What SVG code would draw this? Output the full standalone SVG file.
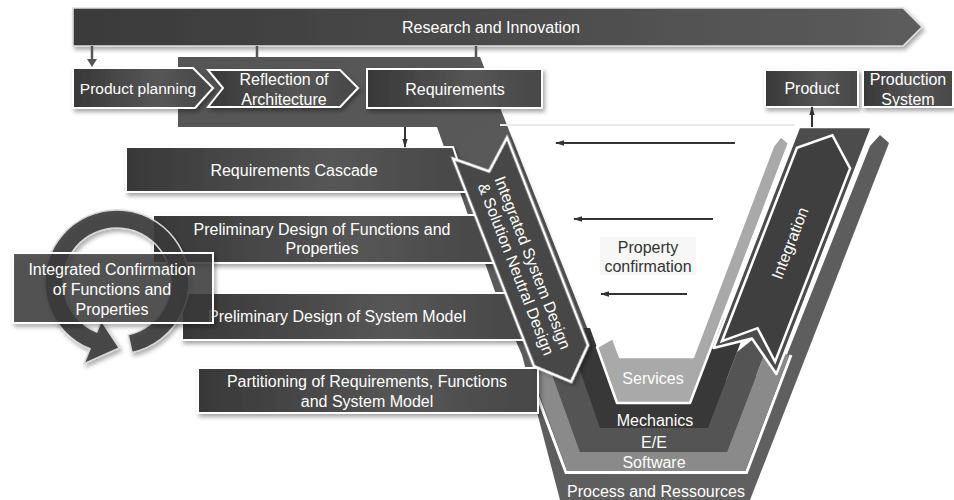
<svg xmlns="http://www.w3.org/2000/svg" width="954" height="500" viewBox="0 0 954 500">
<defs>
<linearGradient id="gBox" x1="0" y1="0" x2="1" y2="0">
<stop offset="0" stop-color="#383838"/><stop offset="0.6" stop-color="#565656"/><stop offset="1" stop-color="#474747"/>
</linearGradient>
<linearGradient id="gBanner" x1="0" y1="0" x2="1" y2="0">
<stop offset="0" stop-color="#3a3a3a"/><stop offset="1" stop-color="#5c5c5c"/>
</linearGradient>
<linearGradient id="gPanel" x1="0" y1="0" x2="1" y2="1">
<stop offset="0" stop-color="#555"/><stop offset="1" stop-color="#616161"/>
</linearGradient>
<filter id="sh" x="-10%" y="-20%" width="130%" height="150%">
<feDropShadow dx="2" dy="3" stdDeviation="2" flood-color="#000" flood-opacity="0.35"/>
</filter>
<marker id="ah" viewBox="0 0 10 10" refX="9" refY="5" markerWidth="9" markerHeight="9" orient="auto" markerUnits="userSpaceOnUse">
<path d="M0,2 L10,5 L0,8 z" fill="#333"/>
</marker>
<style>
.t{font-family:"Liberation Sans",Arial,sans-serif;font-size:16px;fill:#fff;text-anchor:middle}
.d{fill:#333}
.box{fill:url(#gBox);stroke:#fff;stroke-width:2;filter:url(#sh)}
.con{stroke:#555;stroke-width:2.5;fill:none}
.arr{stroke:#333;stroke-width:2;fill:none;marker-end:url(#ah)}
</style>
</defs>
<rect width="954" height="500" fill="#fff"/>

<!-- V layers -->
<g id="process">
<polygon points="178,57 480,57 594,345 612,385 695,385 780,372 870,146 880,135 889,143 750,500 560,500 522,355 498,300 437,127 178,127" fill="url(#gPanel)"/>
<line x1="500" y1="125" x2="795" y2="125" stroke="#ebebeb" stroke-width="2"/>
<polyline points="527,368 566,472.5 746.5,472.5 791,355" fill="none" stroke="#fff" stroke-width="3"/>
<text class="t" x="656" y="497">Process and Ressources</text>
</g>
<g id="software">
<polygon points="530,368 550,368 580,452 727,452 763,358 777,349 789,356 745,471 567,471" fill="#8a8a8a"/>
<text class="t" x="654" y="468">Software</text>
</g>
<g id="ee">
<polygon points="549,366 578,366 600,428 708,428 737,352 752,340 766,350 727,452 580,452" fill="#545454"/>
<text class="t" x="654" y="448">E/E</text>
</g>
<g id="mechanics">
<polygon points="565,328 590,328 617,403 690,403 722,318 750,318 708,428 600,428" fill="#383838"/>
<text class="t" x="655" y="426">Mechanics</text>
</g>
<g id="services">
<polygon points="597,347 613,338 620,357 693,357 773,146 781,136 789,143 690,403 617,403" fill="#a9a9a9" stroke="#fff" stroke-width="2.5" stroke-linejoin="round"/>
<text class="t" x="653" y="384" fill="#f4f4f4">Services</text>
</g>

<!-- left boxes -->
<g id="req-cascade">
<polygon class="box" points="126,147 453,147 468,192 126,192"/>
<text class="t" x="294" y="175.5">Requirements Cascade</text>
</g>
<g id="prelim-functions">
<polygon class="box" points="153,215 477,215 495,263 153,263"/>
<text class="t" x="322" y="234.5">Preliminary Design of Functions and</text>
<text class="t" x="322" y="254">Properties</text>
</g>
<g id="prelim-system">
<polygon class="box" points="182,293 506,293 524,340 182,340"/>
<text class="t" x="337" y="322">Preliminary Design of System Model</text>
</g>
<g id="partitioning">
<rect class="box" x="198" y="368" width="340" height="45"/>
<text class="t" x="367" y="387">Partitioning of Requirements, Functions</text>
<text class="t" x="367" y="407">and System Model</text>
</g>

<!-- circular arrow + confirmation -->
<g id="integrated-confirmation">
<path d="M132,352.4 A72,72 0 1 0 90,348.8 L84,363.6 L119.3,348 L101.3,320.9 L96.8,332.1 A54,54 0 1 1 128.2,334.8 Z" fill="#3a3a3a" fill-opacity="0.9" stroke="#d8d8d8" stroke-width="1.5" filter="url(#sh)"/>
<rect x="13" y="253" width="200" height="70" fill="#3c3c3c" fill-opacity="0.82" stroke="#fff" stroke-width="2" filter="url(#sh)"/>
<text class="t" x="112" y="274.5">Integrated Confirmation</text>
<text class="t" x="112" y="294.5">of Functions and</text>
<text class="t" x="112" y="314.5">Properties</text>
</g>

<!-- ISD arrow -->
<g id="isd" transform="translate(480,148) rotate(-21.3)">
<polygon points="-29,0 0,25 29,0 29,223 0,251 -29,223" fill="#474747" stroke="#fff" stroke-width="2.5" filter="url(#sh)"/>
<text class="t" transform="translate(0,126) rotate(90)" y="-2">Integrated System Design</text>
<text class="t" transform="translate(0,126) rotate(90)" y="16">&amp; Solution Neutral Design</text>
</g>

<!-- Integration -->
<g id="integration">
<polygon points="799,127 872,127 776.4,374 752,338.5 713.5,348" fill="#4c4c4c" stroke="#fff" stroke-width="2.5" stroke-linejoin="round"/>
<g transform="translate(748.5,351.5) rotate(21.2)">
<polygon points="-28.5,0 0,-25 28.5,0 28.5,-207.5 0,-232 -28.5,-207.5" fill="#3f3f3f" stroke="#fff" stroke-width="2.5"/>
<text class="t" transform="translate(0,-116) rotate(-90)" y="5">Integration</text>
</g>
</g>

<!-- top row -->
<g id="research">
<polygon points="73,8 903,8 922,27 903,46 73,46" fill="url(#gBanner)" stroke="#ddd" stroke-width="1.5" filter="url(#sh)"/>
<text class="t" x="491" y="32.5">Research and Innovation</text>
</g>
<g id="product-planning">
<polygon class="box" points="73,68 193,68 213,88 195,108 73,108"/>
<text class="t" x="138" y="93.5" style="font-size:15.5px">Product planning</text>
</g>
<g id="reflection">
<polygon class="box" points="208,70 340,70 358,88 340,107 208,107 223,88"/>
<text class="t" x="284" y="84.5">Reflection of</text>
<text class="t" x="284" y="104.5">Architecture</text>
</g>
<g id="requirements">
<rect class="box" x="367" y="69" width="175" height="39"/>
<text class="t" x="455" y="94.5">Requirements</text>
</g>
<g id="product">
<rect class="box" x="765" y="70" width="93" height="37"/>
<text class="t" x="812" y="93.5">Product</text>
</g>
<g id="production-system">
<rect class="box" x="863" y="70" width="90" height="37"/>
<text class="t" x="908" y="84.5">Production</text>
<text class="t" x="908" y="104.5">System</text>
</g>

<!-- property confirmation -->
<g id="property-confirmation">
<rect x="600" y="237" width="96" height="38" fill="#f7f7f7"/>
<text class="t d" x="648" y="252.5">Property</text>
<text class="t d" x="648" y="271.5">confirmation</text>
</g>

<!-- connectors -->
<g id="connectors">
<line class="con" x1="92" y1="46" x2="92" y2="60"/>
<path d="M87,59 L92,67 L97,59 z" fill="#555"/>
<line class="con" x1="257" y1="46" x2="257" y2="57"/>
<line class="con" x1="476" y1="46" x2="476" y2="57"/>
<line class="arr" x1="405" y1="127" x2="405" y2="147"/>
<line class="arr" x1="812" y1="127" x2="812" y2="107"/>
<line class="arr" x1="735" y1="143" x2="556" y2="143"/>
<line class="arr" x1="713" y1="219" x2="574" y2="219"/>
<line class="arr" x1="687" y1="294" x2="601" y2="294"/>
</g>
</svg>
